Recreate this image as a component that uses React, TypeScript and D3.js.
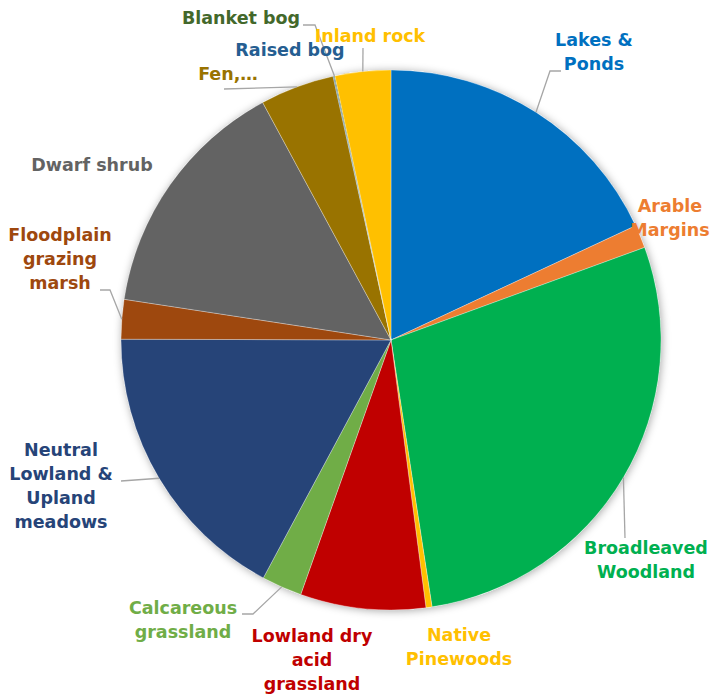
import React from "react";
import * as d3 from "d3";

const categories = [
  "Lakes & Ponds",
  "Arable Margins",
  "Broadleaved Woodland",
  "Native Pinewoods",
  "Lowland dry acid grassland",
  "Calcareous grassland",
  "Neutral Lowland & Upland meadows",
  "Floodplain grazing marsh",
  "Dwarf shrub",
  "Fen,…",
  "Raised bog",
  "Blanket bog",
  "Inland rock",
];
const values = [65, 5, 101.4, 1.3, 27, 8.7, 62, 8.5, 53, 16, 0.2, 0.2, 12];
const colors = [
  "#0070C0",
  "#ED7D31",
  "#00B050",
  "#FFC000",
  "#C00000",
  "#70AD47",
  "#264478",
  "#9E480E",
  "#636363",
  "#997300",
  "#255E91",
  "#43682B",
  "#FFC000",
];

// label layout: line texts, center x, first line center y, leader polyline tail (label side)
const labelLines = [
  ["Lakes &", "Ponds"],
  ["Arable", "Margins"],
  ["Broadleaved", "Woodland"],
  ["Native", "Pinewoods"],
  ["Lowland dry", "acid", "grassland"],
  ["Calcareous", "grassland"],
  ["Neutral", "Lowland &", "Upland", "meadows"],
  ["Floodplain", "grazing", "marsh"],
  ["Dwarf shrub"],
  ["Fen,…"],
  ["Raised bog"],
  ["Blanket bog"],
  ["Inland rock"],
];
const labelPos: [number, number][] = [
  [594, 40],
  [670, 206],
  [646, 548],
  [459, 635],
  [312, 636],
  [183, 608],
  [61, 450],
  [60, 235],
  [92, 165],
  [228, 74],
  [290, 50],
  [241, 18],
  [370, 36],
];
const leaders: ([number, number][] | null)[] = [
  [[550, 71], [561, 71]],
  null,
  [[625, 538]],
  null,
  null,
  [[253, 614], [242, 614]],
  [[135, 480], [121, 481]],
  [[110, 290], [100, 290]],
  null,
  [[224, 89]],
  null,
  [[315, 25], [303, 25]],
  [[363, 48]],
];

const W = 712;
const H = 694;
const cx = 391;
const cy = 340;
const R = 270;

export default function App() {
  const pie = d3.pie<number>().sort(null).value((d) => d)(values);
  const arc = d3.arc<d3.PieArcDatum<number>>().innerRadius(0).outerRadius(R);
  const lineGen = d3.line();

  return (
    <div style={{ position: "absolute", left: 0, top: 0 }}>
      <svg width={W} height={H} style={{ display: "block" }}>
        <defs>
          <filter id="sh" x="-20%" y="-20%" width="140%" height="140%">
            <feDropShadow dx="1" dy="1" stdDeviation="4" floodColor="#000" floodOpacity="0.35" />
          </filter>
        </defs>
        <rect width={W} height={H} fill="#fff" />
        <g transform={`translate(${cx},${cy})`}>
          <circle r={R} fill="#fff" filter="url(#sh)" />
          {pie.map((p, i) => (
            <path key={i} d={arc(p) || ""} fill={colors[i]} stroke="#fff" strokeWidth={0.5} strokeOpacity={0.6} />
          ))}
        </g>
        {pie.map((p, i) => {
          const tail = leaders[i];
          if (!tail) return null;
          const mid = (p.startAngle + p.endAngle) / 2;
          const start: [number, number] = [cx + R * Math.sin(mid), cy - R * Math.cos(mid)];
          return (
            <path
              key={"l" + i}
              d={lineGen([start, ...tail]) || ""}
              fill="none"
              stroke="#A6A6A6"
              strokeWidth={1.3}
            />
          );
        })}
        {labelLines.map((lines, i) => (
          <text
            key={"t" + i}
            x={labelPos[i][0]}
            textAnchor="middle"
            fontFamily="'DejaVu Sans', sans-serif"
            fontWeight="bold"
            fontSize={17.5}
            fill={colors[i]}
          >
            {lines.map((ln, j) => (
              <tspan key={j} x={labelPos[i][0]} y={labelPos[i][1] + j * 24} dominantBaseline="central">
                {ln}
              </tspan>
            ))}
          </text>
        ))}
      </svg>
    </div>
  );
}
